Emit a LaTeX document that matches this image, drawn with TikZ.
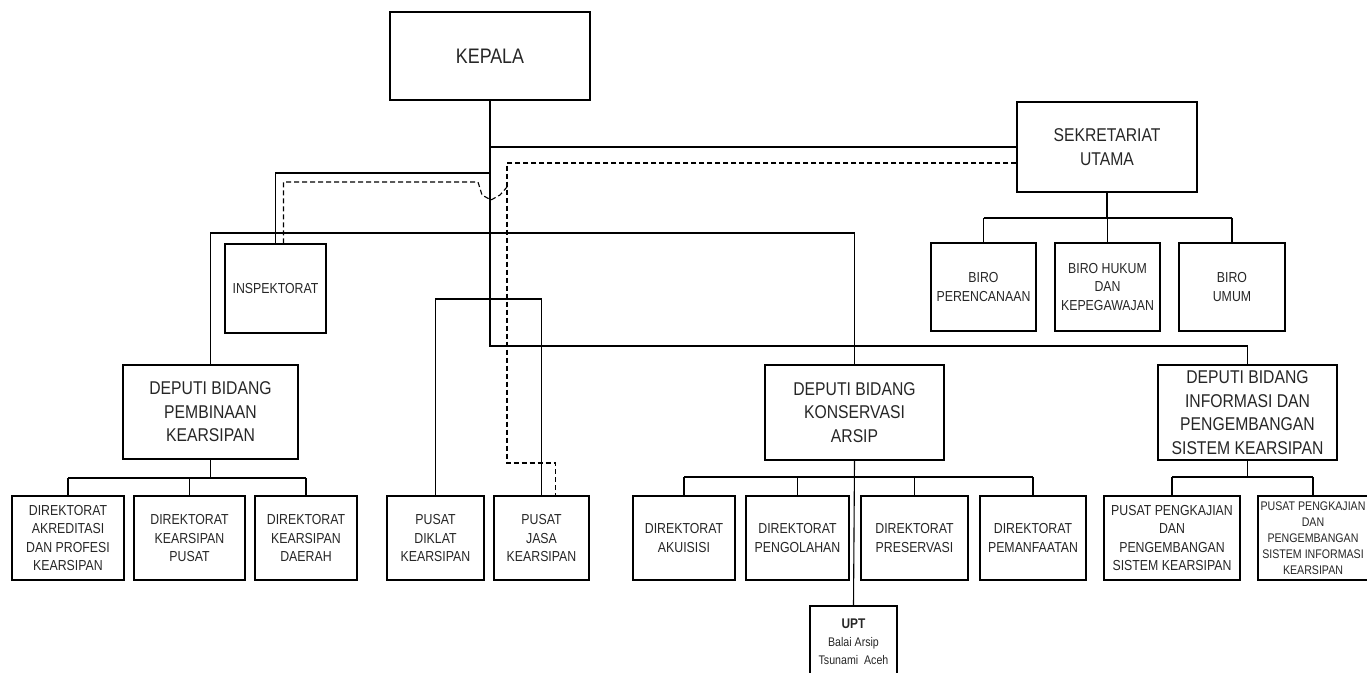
\documentclass[tikz,border=0pt]{standalone}
\usepackage{fontspec}
\setmainfont{Liberation Sans}[FakeStretch=0.85]
\usetikzlibrary{calc}

\tikzset{
  orgbox/.style={draw, line width=1.3pt, align=center, inner sep=0pt, text=black!85,
    font=\fontsize{14.5}{18.5}\selectfont},
  bigbox/.style={orgbox, font=\fontsize{18.5}{23.5}\selectfont},
  garis/.style={line width=1.1pt},
  koord/.style={line width=1.1pt, dash pattern=on 5pt off 3pt},
}

\begin{document}
\begin{tikzpicture}[x=1pt, y=-1pt]
  \useasboundingbox (0,0) rectangle (1367,672);

  % pimpinan
  \node[bigbox, minimum width=200, minimum height=88, font=\fontsize{21}{25}\selectfont] (kepala) at (490,56) {KEPALA};
  \node[bigbox, minimum width=180, minimum height=90] (sestama) at (1107,147) {SEKRETARIAT\\UTAMA};
  \node[orgbox, minimum width=101, minimum height=89] (inspektorat) at (275.5,288.5) {INSPEKTORAT};

  % biro
  \node[orgbox, minimum width=105, minimum height=88] (biroRen) at (983.5,287) {BIRO\\PERENCANAAN};
  \node[orgbox, minimum width=105, minimum height=88] (biroHuk) at (1107.5,287) {BIRO HUKUM\\DAN\\KEPEGAWAJAN};
  \node[orgbox, minimum width=106, minimum height=88] (biroUmum) at (1232,287) {BIRO\\UMUM};

  % deputi
  \node[bigbox, minimum width=175, minimum height=94] (depPem) at (210.5,412) {DEPUTI BIDANG\\PEMBINAAN\\KEARSIPAN};
  \node[bigbox, minimum width=179, minimum height=95] (depKon) at (854.5,412.5) {DEPUTI BIDANG\\KONSERVASI\\ARSIP};
  \node[bigbox, minimum width=179, minimum height=95] (depInf) at (1247.5,412.5) {DEPUTI BIDANG\\INFORMASI DAN\\PENGEMBANGAN\\SISTEM KEARSIPAN};

  % direktorat dan pusat
  \node[orgbox, minimum width=112, minimum height=84] (dirAkr) at (68,538) {DIREKTORAT\\AKREDITASI\\DAN PROFESI\\KEARSIPAN};
  \node[orgbox, minimum width=111, minimum height=84] (dirPus) at (189.5,538) {DIREKTORAT\\KEARSIPAN\\PUSAT};
  \node[orgbox, minimum width=102, minimum height=84] (dirDae) at (306,538) {DIREKTORAT\\KEARSIPAN\\DAERAH};
  \node[orgbox, minimum width=97, minimum height=84] (pusDik) at (435.5,538) {PUSAT\\DIKLAT\\KEARSIPAN};
  \node[orgbox, minimum width=95, minimum height=84] (pusJas) at (541.5,538) {PUSAT\\JASA\\KEARSIPAN};
  \node[orgbox, minimum width=102, minimum height=84] (dirAku) at (684,538) {DIREKTORAT\\AKUISISI};
  \node[orgbox, minimum width=103, minimum height=84] (dirPeng) at (797.5,538) {DIREKTORAT\\PENGOLAHAN};
  \node[orgbox, minimum width=107, minimum height=84] (dirPres) at (914.5,538) {DIREKTORAT\\PRESERVASI};
  \node[orgbox, minimum width=106, minimum height=84] (dirPem) at (1033,538) {DIREKTORAT\\PEMANFAATAN};
  \node[orgbox, minimum width=136, minimum height=84] (pusKaj) at (1172,538) {PUSAT PENGKAJIAN\\DAN\\PENGEMBANGAN\\SISTEM KEARSIPAN};
  \node[orgbox, minimum width=110, minimum height=84, font=\fontsize{12.5}{16}\selectfont] (pusSis) at (1313,538) {PUSAT PENGKAJIAN\\DAN\\PENGEMBANGAN\\SISTEM INFORMASI\\KEARSIPAN};

  % upt
  \node[orgbox, minimum width=87, minimum height=72, font=\fontsize{12.5}{18}\selectfont] (upt) at (853.5,642) {{\fontsize{14}{18}\selectfont\bfseries UPT}\\Balai Arsip\\Tsunami\ \ Aceh};

  % garis komando
  \coordinate (jIns) at (490,173);
  \coordinate (jDep) at (490,346);
  \draw[garis] (kepala.south) -- (jDep) -| (depInf.north);
  \draw[garis] (kepala.south |- sestama.west) -- (sestama.west);
  \draw[garis] (inspektorat.north) |- (jIns);
  \draw[garis] (depPem.north) |- (depKon.north |- 0,233) -- (depKon.north);
  \draw[garis] (pusDik.north) |- (pusJas.north |- 0,299) -- (pusJas.north);

  \draw[garis] (sestama.south) -- (sestama.south |- 0,218);
  \draw[garis] (biroRen.north |- 0,218) -- (biroUmum.north |- 0,218);
  \foreach \b in {biroRen,biroHuk,biroUmum}
    \draw[garis] (\b.north) -- (\b.north |- 0,218);

  \draw[garis] (depPem.south) -- (depPem.south |- 0,478);
  \draw[garis] (dirAkr.north |- 0,478) -- (dirDae.north |- 0,478);
  \foreach \d in {dirAkr,dirPus,dirDae}
    \draw[garis] (\d.north) -- (\d.north |- 0,478);

  \draw[garis] (depKon.south) -- (upt.north);
  \draw[garis] (dirAku.north |- 0,477) -- (dirPem.north |- 0,477);
  \foreach \d in {dirAku,dirPeng,dirPres,dirPem}
    \draw[garis] (\d.north) -- (\d.north |- 0,477);

  \draw[garis] (depInf.south) -- (depInf.south |- 0,477);
  \draw[garis] (pusKaj.north |- 0,477) -- (pusSis.north |- 0,477);
  \foreach \p in {pusKaj,pusSis}
    \draw[garis] (\p.north) -- (\p.north |- 0,477);

  % garis koordinasi
  \draw[koord] ($(sestama.west)+(0,16)$) -| (507,463) -| ($(pusJas.north)+(14,0)$);
  \draw[koord] ($(inspektorat.north)+(8,0)$) |- (478,182) -- (482,195) -- (491,200) -- (500,195) -- (507,187);
\end{tikzpicture}
\end{document}
